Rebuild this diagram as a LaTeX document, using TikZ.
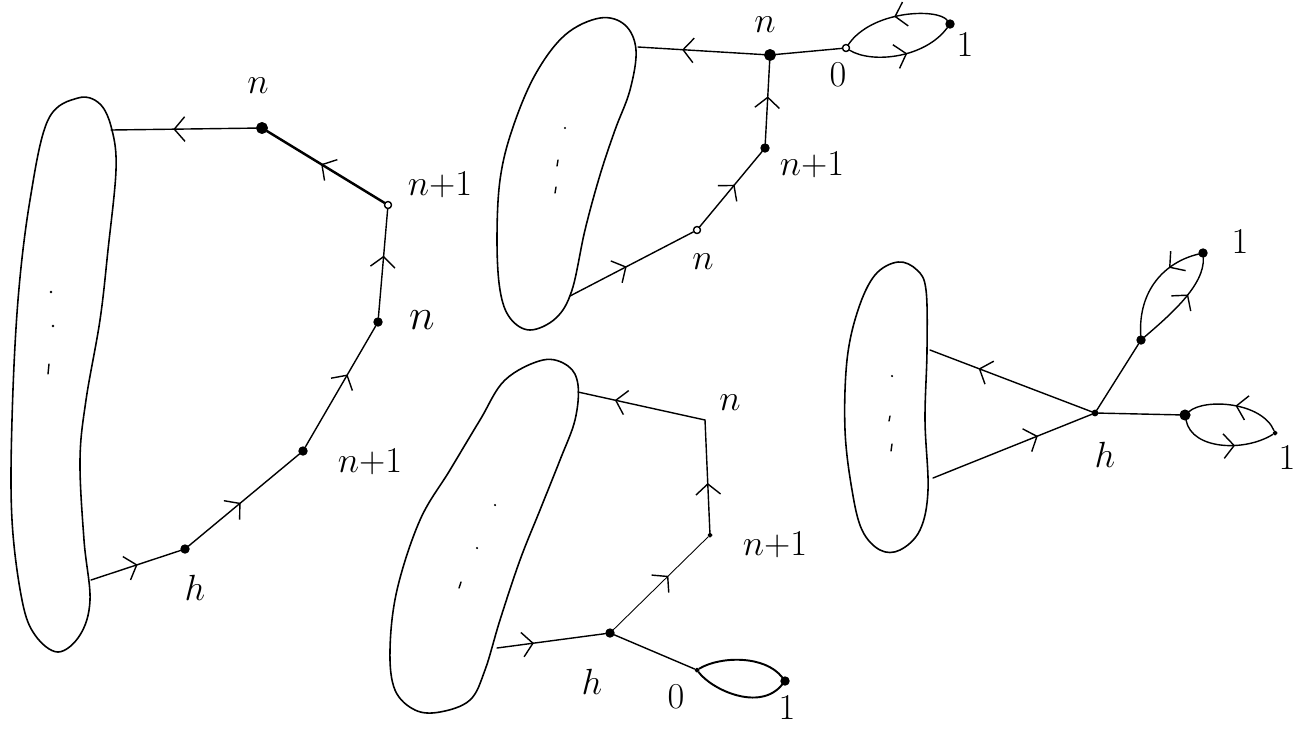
\documentclass[tikz,border=0pt]{standalone}
\usetikzlibrary{arrows.meta, decorations.markings}

\begin{document}
\begin{tikzpicture}[x=0.02cm, y=-0.02cm, line width=0.8pt, line cap=round, line join=round,
    flow/.style={draw, postaction={decorate}, decoration={markings, mark=at position #1 with {\arrow{Straight Barb[length=6pt, width=14pt, line width=0.8pt]}}}},
    flow/.default=0.5]
    \tikzstyle{vertex} = [circle, fill, draw, inner sep=0pt, minimum size=4.5pt]
    \tikzstyle{hollow} = [circle, fill=white, draw, inner sep=0pt, minimum size=4pt]
    \tikzstyle{tag} = [inner sep=1pt, font=\fontsize{20}{22}\selectfont]
    \tikzstyle{blob} = [draw, line width=0.9pt]

    \useasboundingbox (0,0) rectangle (1314,728);

    % left picture
    \draw [blob] plot [smooth cycle, tension=0.6] coordinates {(78,98) (100,104) (112,130) (116,170) (108,250) (100,320) (86,400) (80,460) (84,540) (90,600) (80,635) (58,652) (35,635) (22,600) (12,520) (12,420) (18,300) (30,200) (48,120)};
    \fill (51,292) circle (0.8pt) (53,326) circle (0.8pt);
    \draw (49,364) -- (48,374);
    \coordinate (b1top) at (111,130);
    \coordinate (b1bot) at (91,580);

    \node [vertex, minimum size=6pt] (n1a) at (262,128) {};
    \node [hollow] (n1b) at (388,205) {};
    \node [vertex] (n1c) at (378,322) {};
    \node [vertex] (n1d) at (303,451) {};
    \node [vertex] (h1) at (185,549) {};

    \node [tag] (t1a) at (258,86) {$n$};
    \node [tag] (t1b) at (440,185) {$n{+}1$};
    \node [tag, font=\fontsize{24}{26}\selectfont] (t1c) at (422,320) {$n$};
    \node [tag] (t1d) at (370,462) {$n{+}1$};
    \node [tag] (t1e) at (195,588) {$h$};

    \path [flow=0.52] (b1bot) -- (h1);
    \path [flow=0.47] (h1) -- (n1d);
    \path [flow=0.6] (n1d) -- (n1c);
    \path [flow=0.57] (n1c) -- (n1b);
    \path [flow=0.54, line width=1.4pt] (n1b) -- (n1a);
    \path [flow=0.57] (n1a) -- (b1top);

    % top middle picture
    \draw [blob] plot [smooth cycle, tension=0.6] coordinates {(600,18) (625,25) (636,50) (630,90) (615,130) (600,175) (585,230) (572,290) (556,318) (530,330) (510,318) (500,290) (497,240) (500,180) (512,130) (535,75) (565,35)};
    \fill (565,128) circle (0.7pt);
    \draw (558,160) -- (557,166) (556,187) -- (555,193);
    \coordinate (b2top) at (638,47);
    \coordinate (b2bot) at (570,296);

    \node [vertex, minimum size=6pt] (n2a) at (770,55) {};
    \node [hollow] (z2) at (846,48) {};
    \node [vertex] (one2) at (950,24) {};
    \node [vertex] (n2b) at (765,148) {};
    \node [hollow] (n2c) at (697,230) {};

    \node [tag] (t2a) at (765,25) {$n$};
    \node [tag] (t2b) at (838,75) {$0$};
    \node [tag] (t2c) at (965,45) {$1$};
    \node [tag] (t2d) at (812,165) {$n{+}1$};
    \node [tag] (t2e) at (703,262) {$n$};

    \path [flow=0.46] (b2bot) -- (n2c);
    \path [flow=0.56] (n2c) -- (n2b);
    \path [flow=0.57] (n2b) -- (n2a);
    \path [flow=0.65] (n2a) -- (b2top);
    \draw (n2a) -- (z2);
    \path [flow=0.55] (z2) .. controls (872,64) and (925,58) .. (one2);
    \path [flow=0.5] (one2) .. controls (938,8) and (872,10) .. (z2);

    % bottom middle picture
    \draw [blob] plot [smooth cycle, tension=0.6] coordinates {(543,360) (568,366) (578,385) (575,420) (560,460) (540,510) (520,560) (500,620) (485,670) (470,700) (440,712) (415,710) (395,690) (390,650) (397,590) (420,520) (450,470) (480,420) (505,380)};
    \fill (495,505) circle (0.7pt) (477,548) circle (0.7pt);
    \draw (461,582) -- (459,588);
    \coordinate (b3top) at (578,392);
    \coordinate (b3bot) at (497,648);

    \coordinate (n3a) at (705,420);
    \node [vertex, minimum size=2pt] (n3b) at (710,535) {};
    \node [vertex] (h3) at (610,633) {};
    \node [vertex, minimum size=2pt] (z3) at (697,670) {};
    \node [vertex] (one3) at (785,681) {};

    \node [tag] (t3a) at (730,403) {$n$};
    \node [tag] (t3b) at (775,545) {$n{+}1$};
    \node [tag] (t3c) at (592,682) {$h$};
    \node [tag] (t3d) at (676,697) {$0$};
    \node [tag] (t3e) at (787,708) {$1$};

    \path [flow=0.34] (b3bot) -- (h3);
    \path [flow=0.58, line width=0.5pt] (h3) -- (n3b);
    \path [flow=0.44] (n3b) -- (n3a);
    \path [flow=0.71] (n3a) -- (b3top);
    \draw (h3) -- (z3);
    \draw [line width=1.1pt] (z3) .. controls (720,656) and (765,655) .. (one3);
    \draw [line width=1.1pt] (z3) .. controls (712,690) and (760,712) .. (one3);

    % right picture
    \draw [blob] plot [smooth cycle, tension=0.6] coordinates {(898,262) (917,270) (926,290) (927,350) (925,420) (928,490) (920,530) (900,550) (880,550) (862,530) (852,490) (845,430) (847,360) (858,310) (875,275)};
    \fill (892,376) circle (0.7pt);
    \draw (890,416) -- (889,421) (892,444) -- (891,451);
    \coordinate (b4top) at (930,350);
    \coordinate (b4bot) at (933,478);

    \node [vertex, minimum size=3pt] (h4) at (1095,413) {};
    \node [vertex] (m4) at (1141,340) {};
    \node [vertex] (one4a) at (1203,253) {};
    \node [vertex, minimum size=5.5pt] (r4) at (1185,415) {};
    \node [vertex, minimum size=2pt] (one4b) at (1275,433) {};

    \node [tag] (t4a) at (1240,242) {$1$};
    \node [tag] (t4b) at (1105,455) {$h$};
    \node [tag] (t4c) at (1287,458) {$1$};

    \path [flow=0.7] (h4) -- (b4top);
    \path [flow=0.66] (b4bot) -- (h4);
    \draw (h4) -- (m4);
    \draw (h4) -- (r4);
    \path [flow=0.6] (m4) .. controls (1170,315) and (1205,285) .. (one4a);
    \path [flow=0.3] (one4a) .. controls (1165,262) and (1138,290) .. (m4);
    \path [flow=0.6] (r4) .. controls (1192,450) and (1245,452) .. (one4b);
    \path [flow=0.5] (one4b) .. controls (1262,402) and (1205,398) .. (r4);
\end{tikzpicture}
\end{document}
